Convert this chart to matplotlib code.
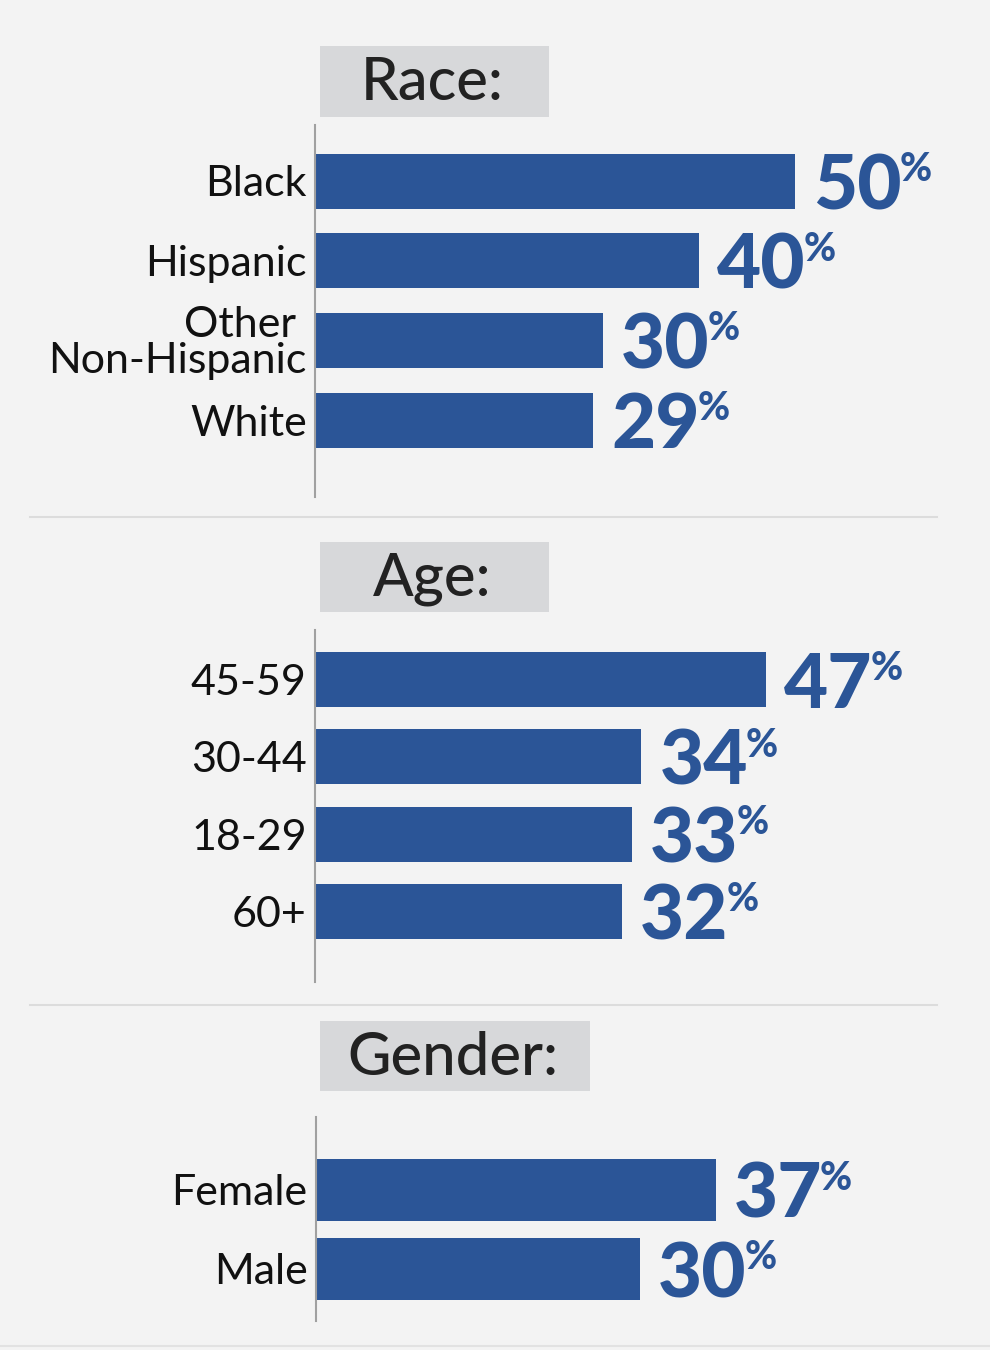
import matplotlib
matplotlib.use("Agg")
import matplotlib.pyplot as plt
from matplotlib.patches import Rectangle
from matplotlib.lines import Line2D

plt.rcParams['font.family'] = ['Lato', 'DejaVu Sans']

# ---- data ----
race_labels = ["Black", "Hispanic", "Other \nNon-Hispanic", "White"]
race_values = [50, 40, 30, 29]
age_labels = ["45-59", "30-44", "18-29", "60+"]
age_values = [47, 34, 33, 32]
gender_labels = ["Female", "Male"]
gender_values = [37, 30]
section_titles = ["Race:", "Age:", "Gender:"]

W, H = 990, 1350
BG = "#f3f3f3"
BAR = "#2b5597"
BOX = "#d7d8da"
AXC = "#a0a0a0"

fig = plt.figure(figsize=(W / 100, H / 100), dpi=100, facecolor=BG)


def fx(px):
    return px / W


def fy(py):
    return 1 - py / H


def make_axes(left, top, right, bottom):
    return fig.add_axes([fx(left), fy(bottom), fx(right) - fx(left), fy(top) - fy(bottom)])


def draw_section(labels, values, left, top, bottom, scale, first_c, spacing, barh_px):
    right = W
    ax = make_axes(left, top, right, bottom)
    ax.set_facecolor("none")
    n = len(values)
    pos = list(range(n))
    ax.set_xlim(0, (right - left) / scale)
    y_top = -(first_c - top) / spacing
    y_bot = (n - 1) + (bottom - (first_c + (n - 1) * spacing)) / spacing
    ax.set_ylim(y_bot, y_top)
    ax.barh(pos, values, height=barh_px / spacing, color=BAR, edgecolor="none")
    for s in ["top", "right", "bottom"]:
        ax.spines[s].set_visible(False)
    ax.spines["left"].set_color(AXC)
    ax.spines["left"].set_linewidth(1.5)
    ax.set_xticks([])
    ax.set_yticks(pos)
    ax.set_yticklabels(labels, fontsize=31, color="#111111", linespacing=0.93,
                       multialignment="right")
    ax.tick_params(axis="y", length=0, pad=6)
    return ax, pos


value_texts = []

sections = [
    (race_labels, race_values, 315, 125, 497, 9.6, 181.0, 79.67, 55),
    (age_labels, age_values, 315, 630, 982, 9.6, 679.5, 77.3, 55),
    (gender_labels, gender_values, 316, 1117, 1321, 10.8, 1189.5, 79.5, 62),
]

for labels, values, left, top, bottom, scale, first_c, spacing, bh in sections:
    ax, pos = draw_section(labels, values, left, top, bottom, scale, first_c, spacing, bh)
    for p, v in zip(pos, values):
        t = ax.annotate(f"{v}", xy=(v, p), xycoords="data",
                        xytext=(18, 29), textcoords="offset pixels",
                        ha="left", va="top", fontsize=55, fontweight="black",
                        color=BAR)
        value_texts.append((ax, t, v, p))

# title boxes
boxes = [(320, 46, 549, 117), (320, 542, 549, 612), (320, 1021, 590, 1091)]
for (l, t, r, b), title in zip(boxes, section_titles):
    fig.patches.append(Rectangle((fx(l), fy(b)), fx(r) - fx(l), fy(t) - fy(b),
                                 transform=fig.transFigure, facecolor=BOX,
                                 edgecolor="none", zorder=0))
    fig.text(fx((l + r) / 2 - 2), fy((t + b) / 2 + 2), title, ha="center", va="center",
             fontsize=43, fontweight="medium", color="#222222")

# separators
for y in [517, 1005]:
    fig.add_artist(Line2D([fx(30), fx(937)], [fy(y), fy(y)], color="#dcdcdc", lw=1.5))
fig.add_artist(Line2D([0, 1], [fy(1346), fy(1346)], color="#e2e2e2", lw=1.5))

# percent superscripts
fig.canvas.draw()
renderer = fig.canvas.get_renderer()
for ax, t, v, p in value_texts:
    bb = t.get_window_extent(renderer)
    fig.text((bb.x1 - 2) / W, (bb.y1 + 1) / H, "%", ha="left", va="top",
             fontsize=28, fontweight="black", color=BAR)

fig.savefig("out.png", dpi=100, facecolor=BG)
